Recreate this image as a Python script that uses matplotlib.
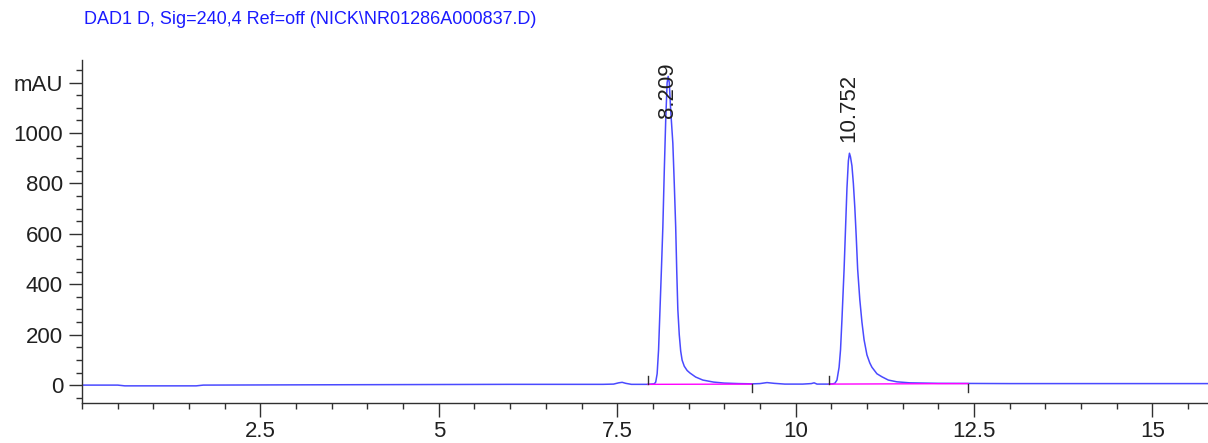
import numpy as np
import matplotlib
matplotlib.use("Agg")
import matplotlib.pyplot as plt
from matplotlib.ticker import MultipleLocator

plt.rcParams['font.family'] = ['Liberation Sans', 'DejaVu Sans']

title = r"DAD1 D, Sig=240,4 Ref=off (NICK\NR01286A000837.D)"

# signal trace (time in min, absorbance in mAU)
time = [0.0, 0.5, 0.6, 1.6, 1.7, 3.0, 4.5, 6.0, 7.3, 7.45, 7.52, 7.57, 7.62, 7.70,
        7.93, 8.02, 8.04, 8.06, 8.08, 8.10, 8.12, 8.14, 8.16, 8.18, 8.20, 8.215,
        8.23, 8.25, 8.28, 8.30, 8.32, 8.335, 8.35, 8.37, 8.39, 8.41, 8.44, 8.48,
        8.52, 8.60, 8.70, 8.85, 9.0, 9.2, 9.4, 9.5, 9.6, 9.7, 9.85, 10.1, 10.22,
        10.26, 10.3, 10.45, 10.52, 10.55, 10.58, 10.61, 10.63, 10.65, 10.68, 10.70,
        10.72, 10.74, 10.755, 10.77, 10.79, 10.81, 10.83, 10.85, 10.87, 10.90,
        10.93, 10.96, 11.00, 11.04, 11.07, 11.14, 11.21, 11.30, 11.42, 11.60,
        12.0, 13.0, 14.5, 15.8]
mau = [0, 0, -3, -3, 0, 1, 2, 3, 3, 4, 9, 11, 7, 3,
       3, 5, 12, 45, 140, 300, 460, 627, 850, 1050, 1200, 1225,
       1200, 1090, 960, 800, 627, 450, 300, 200, 135, 99, 75, 58,
       48, 32, 20, 12, 8, 6, 5, 6, 10, 7, 4, 4, 6,
       9, 4, 4, 5, 7, 20, 71, 140, 260, 460, 620,
       780, 890, 920, 905, 870, 800, 706, 590, 460, 340,
       250, 180, 120, 88, 71, 45, 33, 20, 13, 9,
       7, 6, 6, 6]

# integration baselines (start, end) and their levels
bl_t0 = [7.93, 10.47]
bl_t1 = [9.39, 12.42]
bl_y0 = [3, 4]
bl_y1 = [4, 6]

peak_rt = [8.209, 10.752]
peak_lbl = ["8.209", "10.752"]
peak_lbl_y = [1060, 964]

px = 72 / 100  # points per pixel at dpi 100

fig = plt.figure(figsize=(12.08, 4.43), dpi=100)
ax = fig.add_axes([0.0679, 0.0903, 0.9321, 0.7743])

ax.plot(time, mau, color='#4a4aff', lw=1.1)

for a, b, c, d in zip(bl_t0, bl_t1, bl_y0, bl_y1):
    ax.plot([a, b], [c, d], color='#ff00ff', lw=1.0)
    # event marks: start tick up, end tick down
    ax.plot([a, a], [c, c + 32], color='#303030', lw=1.0)
    ax.plot([b, b], [d, d - 32], color='#303030', lw=1.0)

for t, s, y in zip(peak_rt, peak_lbl, peak_lbl_y):
    ax.text(t, y, s, rotation=90, ha='center', va='bottom', fontsize=16, color='#202020')

ax.set_xlim(0, 15.78)
ax.set_ylim(-71, 1290)
ax.xaxis.set_major_locator(MultipleLocator(2.5))
ax.xaxis.set_minor_locator(MultipleLocator(0.5))
ax.yaxis.set_major_locator(MultipleLocator(200))
ax.yaxis.set_minor_locator(MultipleLocator(50))

yt = [0, 200, 400, 600, 800, 1000, 1200]
ax.set_yticks(yt)
ax.set_yticklabels(['0', '200', '400', '600', '800', '1000', 'mAU'])
xt = [2.5, 5, 7.5, 10, 12.5, 15]
ax.set_xticks(xt)
ax.set_xticklabels(['2.5', '5', '7.5', '10', '12.5', '15'])

ax.spines['top'].set_visible(False)
ax.spines['right'].set_visible(False)
for sp in ['left', 'bottom']:
    ax.spines[sp].set_color('#303030')
    ax.spines[sp].set_linewidth(1.0)

ax.tick_params(axis='y', which='major', length=13 * px, pad=6 * px)
ax.tick_params(axis='x', which='major', length=14 * px, pad=4 * px)
ax.tick_params(which='major', width=1, color='#303030', labelsize=16, labelcolor='#202020')
ax.tick_params(which='minor', length=6 * px, width=1, color='#303030')

fig.text(0.0695, 0.955, title, color='#1a1aff', fontsize=13, ha='left', va='center')

fig.savefig("out.png", dpi=100)
